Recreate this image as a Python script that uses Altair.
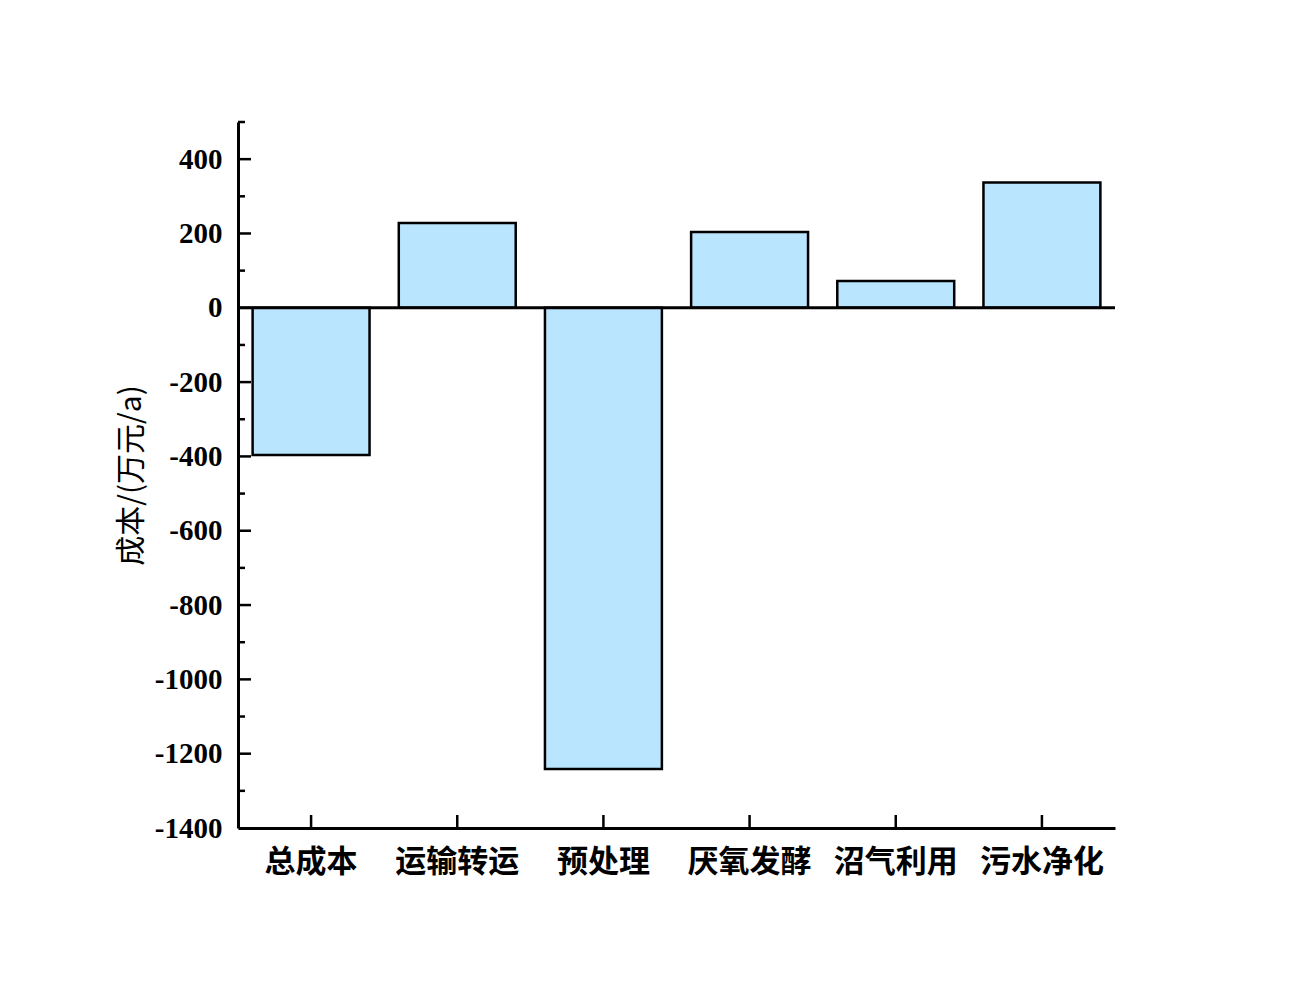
import altair as alt
import pandas as pd

categories = ["总成本", "运输转运", "预处理", "厌氧发酵", "沼气利用", "污水净化"]
costs = [-396, 228, -1241, 204, 72, 337]
y_major = [-1200, -1000, -800, -600, -400, -200, 0, 200, 400]
y_labels = [-1400, -1200, -1000, -800, -600, -400, -200, 0, 200, 400]
y_minor = [-1300, -1100, -900, -700, -500, -300, -100, 100, 300, 500]

W, H = 877, 706

df = pd.DataFrame({"cat": categories, "cost": costs})
df_major = pd.DataFrame({"v": y_major})
df_minor = pd.DataFrame({"v": y_minor})
df_xt = pd.DataFrame({"cat": categories})

xscale = alt.Scale(domain=categories, paddingInner=0.2, paddingOuter=0.1)
yscale = alt.Scale(domain=[-1400, 500], nice=False, zero=False)

bars = alt.Chart(df).mark_bar(
    color="#B9E5FE", stroke="black", strokeWidth=2.5
).encode(
    x=alt.X("cat:N", scale=xscale, sort=categories,
            axis=alt.Axis(title=None, labelAngle=0, ticks=False,
                          domainWidth=3, domainColor="black",
                          labelFont="Noto Sans CJK SC", labelFontSize=31,
                          labelFontWeight="bold", labelColor="black",
                          labelPadding=19)),
    y=alt.Y("cost:Q", scale=yscale,
            axis=alt.Axis(title="成本/(万元/a)", values=y_labels, ticks=False,
                          grid=False, domainWidth=3, domainColor="black",
                          labelExpr="datum.value < 0 ? '-' + abs(datum.value) : '' + datum.value",
                          labelFont="Liberation Serif", labelFontSize=29,
                          labelFontWeight="bold", labelColor="black",
                          labelPadding=16,
                          titleFont="Noto Sans CJK SC", titleFontSize=30,
                          titleFontWeight="normal", titleColor="black",
                          titlePadding=8)),
)

zero = alt.Chart(pd.DataFrame({"z": [0]})).mark_rule(
    color="black", strokeWidth=3
).encode(y=alt.Y("z:Q", scale=yscale), x=alt.value(0), x2=alt.value(W))

major = alt.Chart(df_major).mark_rule(color="black", strokeWidth=2.5).encode(
    y=alt.Y("v:Q", scale=yscale), x=alt.value(0), x2=alt.value(13))

minor = alt.Chart(df_minor).mark_rule(color="black", strokeWidth=2.5).encode(
    y=alt.Y("v:Q", scale=yscale), x=alt.value(0), x2=alt.value(7))

xticks = alt.Chart(df_xt).mark_rule(color="black", strokeWidth=2.5).encode(
    x=alt.X("cat:N", scale=xscale, sort=categories),
    y=alt.value(H), y2=alt.value(H - 13))

chart = alt.layer(bars, zero, major, minor, xticks).properties(
    width=W, height=H,
    background="white",
    autosize=alt.AutoSizeParams(type="none"),
    padding={"left": 230, "top": 114, "right": 100, "bottom": 100},
).configure_view(stroke=None, strokeWidth=0)

chart.save("out.html", embed_options={"renderer": "svg", "actions": False})
